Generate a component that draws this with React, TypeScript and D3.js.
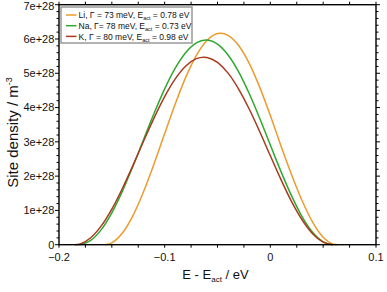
import React from "react";
import * as d3 from "d3";

// E - E_act (eV) and site density (1e28 m^-3)
const liE = [-0.1565, -0.15, -0.14, -0.13, -0.12, -0.11, -0.1, -0.09, -0.08, -0.07, -0.06, -0.05, -0.047, -0.04, -0.03, -0.02, -0.01, 0, 0.01, 0.02, 0.03, 0.04, 0.05, 0.06, 0.0635];
const liV = [0, 0.054, 0.339, 0.849, 1.543, 2.362, 3.24, 4.105, 4.887, 5.523, 5.958, 6.159, 6.17, 6.108, 5.81, 5.29, 4.589, 3.766, 2.886, 2.05, 1.29, 0.66, 0.22, 0.015, 0];
const naE = [-0.181, -0.17, -0.16, -0.15, -0.14, -0.13, -0.12, -0.11, -0.1, -0.09, -0.08, -0.07, -0.061, -0.05, -0.04, -0.03, -0.02, -0.01, 0, 0.01, 0.02, 0.03, 0.04, 0.05, 0.059];
const naV = [0, 0.123, 0.44, 0.93, 1.561, 2.288, 3.063, 3.833, 4.545, 5.15, 5.608, 5.888, 5.97, 5.848, 5.531, 5.04, 4.409, 3.682, 2.908, 2.139, 1.43, 0.819, 0.361, 0.082, 0];
const kE = [-0.185, -0.18, -0.17, -0.16, -0.15, -0.14, -0.13, -0.12, -0.11, -0.1, -0.09, -0.08, -0.07, -0.063, -0.06, -0.05, -0.04, -0.03, -0.02, -0.01, 0, 0.01, 0.02, 0.03, 0.04, 0.05, 0.059];
const kV = [0, 0.023, 0.202, 0.548, 1.039, 1.64, 2.314, 3.017, 3.701, 4.32, 4.836, 5.212, 5.426, 5.47, 5.462, 5.318, 5.005, 4.541, 3.958, 3.295, 2.594, 1.904, 1.264, 0.727, 0.321, 0.073, 0];

const seriesNames = ["Li", "Na", "K"];
const seriesGamma = ["Γ = 73 meV", "Γ= 78 meV", "Γ = 80 meV"];
const seriesEact = ["0.78", "0.73", "0.98"];
const seriesColors = ["#EC9B2D", "#2FA82E", "#A93A20"];

const xTickLabels = ["−0.2", "−0.1", "0", "0.1"];
const xTickValues = [-0.2, -0.1, 0, 0.1];
const yTickLabels = ["0", "1e+28", "2e+28", "3e+28", "4e+28", "5e+28", "6e+28", "7e+28"];

const W = 387, H = 292;
const L = 59, R = 376, T = 4.7, B = 244.7;

export default function App() {
  const x = d3.scaleLinear().domain([-0.2, 0.1]).range([L, R]);
  const y = d3.scaleLinear().domain([0, 7]).range([B, T]);
  const line = d3.line<[number, number]>().x((d) => x(d[0])).y((d) => y(d[1])).curve(d3.curveMonotoneX);
  const data: [number, number][][] = [
    liE.map((e, i) => [e, liV[i]]),
    naE.map((e, i) => [e, naV[i]]),
    kE.map((e, i) => [e, kV[i]]),
  ];
  const xMinor = d3.range(0, 13).map((i) => -0.2 + i * 0.025);
  const yMinor = d3.range(0, 36).map((i) => i * 0.2);
  const font = "Liberation Sans, Arial, sans-serif";
  return (
    <svg width={W} height={H} style={{ position: "absolute", left: 0, top: 0, background: "#fff" }} fontFamily={font}>
      <rect x={0} y={0} width={W} height={H} fill="#fff" />
      {data.map((d, i) => (
        <path key={i} d={line(d) || ""} fill="none" stroke={seriesColors[i]} strokeWidth={1.5} />
      ))}
      {/* frame */}
      <rect x={L} y={T} width={R - L} height={B - T} fill="none" stroke="#000" strokeWidth={1.4} />
      {/* x ticks */}
      {xMinor.map((v, i) => (
        <g key={"xt" + i}>
          <line x1={x(v)} x2={x(v)} y1={B} y2={B + 3} stroke="#000" strokeWidth={1} />
          <line x1={x(v)} x2={x(v)} y1={T} y2={T - 3} stroke="#000" strokeWidth={1} />
        </g>
      ))}
      {yMinor.map((v, i) => {
        const major = Math.abs(v - Math.round(v)) < 1e-6;
        const len = major ? 4 : 2.5;
        return (
          <g key={"yt" + i}>
            <line x1={L} x2={L - len} y1={y(v)} y2={y(v)} stroke="#000" strokeWidth={1} />
            <line x1={R} x2={R + len} y1={y(v)} y2={y(v)} stroke="#000" strokeWidth={1} />
          </g>
        );
      })}
      {xTickLabels.map((s, i) => (
        <text key={"xl" + i} x={x(xTickValues[i])} y={260.7} textAnchor="middle" fontSize={11} fill="#111">
          {s}
        </text>
      ))}
      {yTickLabels.map((s, i) => (
        <text key={"yl" + i} x={54.3} y={Math.max(y(i) + 3.9, 9.8)} textAnchor="end" fontSize={11} fill="#111">
          {s}
        </text>
      ))}
      <text x={215.5} y={279} textAnchor="middle" fontSize={13} fill="#111">
        E - E<tspan fontSize={8} dy={3}>act</tspan><tspan dy={-3}> / eV</tspan>
      </text>
      <text transform={`translate(18.3,132.5) rotate(-90)`} textAnchor="middle" fontSize={15} fill="#111">
        Site density / m<tspan fontSize={9} dy={-6}>-3</tspan>
      </text>
      {/* legend */}
      <rect x={61} y={7} width={131} height={36} fill="#fff" stroke="#999" strokeWidth={1.5} />
      {seriesNames.map((n, i) => {
        const cy = 15 + i * 10.7;
        return (
          <g key={"lg" + i}>
            <line x1={66} x2={76.5} y1={cy} y2={cy} stroke={seriesColors[i]} strokeWidth={1.5} />
            <text x={78.5} y={cy + 3.1} fontSize={8.5} fill="#111">
              {n}, {seriesGamma[i]}, E<tspan fontSize={5.5} dy={2}>act</tspan><tspan dy={-2}> = {seriesEact[i]} eV</tspan>
            </text>
          </g>
        );
      })}
    </svg>
  );
}
